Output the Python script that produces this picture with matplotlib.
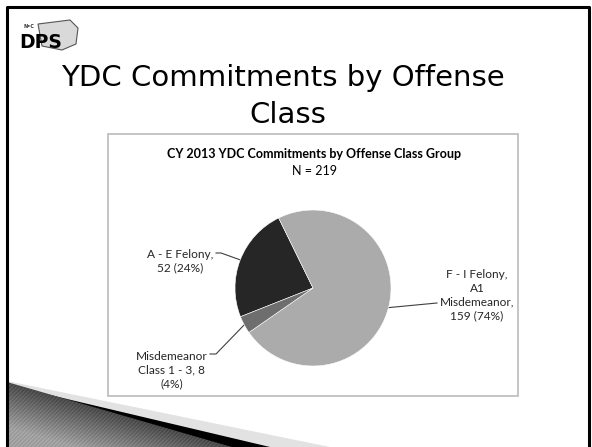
"""
YDC commitments by offense class - slide recreation
"""
import numpy as np
import matplotlib.pyplot as plt
from matplotlib.patches import Polygon, Rectangle

# data
categories = ["A - E Felony", "F - I Felony, A1 Misdemeanor", "Misdemeanor Class 1 - 3"]
counts = [52, 159, 8]
slice_labels = ["A - E Felony,\n52 (24%)",
                "F - I Felony,\nA1\nMisdemeanor,\n159 (74%)",
                "Misdemeanor\nClass 1 - 3, 8\n(4%)"]
slice_colors = ["#262626", "#ababab", "#6e6e6e"]

slide_title = ["YDC Commitments by Offense", "Class"]
chart_title = "CY 2013 YDC Commitments by Offense Class Group"
chart_sub = "N = 219"

W, H = 592, 447
fig = plt.figure(figsize=(W / 100, H / 100), dpi=100)

# background axes in pixel units (y down)
bg = fig.add_axes([0, 0, 1, 1])
bg.set_xlim(0, W)
bg.set_ylim(H, 0)
bg.axis("off")

# slide border
bg.plot([7, 7, 589, 589], [H, 7, 7, H], color="black", lw=2.2, solid_capstyle="butt")

# swoosh at the bottom left
bg.add_patch(Polygon([(7, 381), (330, 447), (7, 447)], closed=True, fc="#e2e2e2", ec="none"))
bg.add_patch(Polygon([(50, 395), (270, 447), (7, 447), (7, 384)], closed=True, fc="black", ec="none"))
gray_poly = Polygon([(7, 382), (232, 447), (7, 447)], closed=True, fc="none", ec="none")
bg.add_patch(gray_poly)
xx, yy = np.meshgrid(np.arange(7, 233), np.arange(380, 448))
dist = yy - (382 + (xx - 7) * 65 / 225)
shade = 0.26 + 0.34 * np.clip(dist / 45, 0, 1)
shade = shade + 0.06 * (((xx + yy) // 2) % 2)
img = bg.imshow(shade, cmap="gray", vmin=0, vmax=1, extent=(7, 233, 448, 380),
                origin="upper", interpolation="nearest", aspect="auto", zorder=1.5)
img.set_clip_path(gray_poly)
bg.set_xlim(0, W)
bg.set_ylim(H, 0)

# logo
bg.add_patch(Polygon([(38, 24), (70, 20), (78, 28), (76, 44), (62, 50), (42, 46)],
                     closed=True, fc="#d9d9d9", ec="#555555", lw=0.8))
bg.text(19, 48, "DPS", fontsize=13.5, fontweight="bold", family="DejaVu Sans",
        color="black", va="baseline")
bg.text(23, 28, "N•C", fontsize=3.5, fontweight="bold", color="#333333", va="baseline")

# slide title
bg.text(283, 86, slide_title[0], fontsize=21, ha="center", va="baseline",
        family="DejaVu Sans")
bg.text(288, 123, slide_title[1], fontsize=21, ha="center", va="baseline",
        family="DejaVu Sans")

# chart frame
bg.add_patch(Rectangle((108, 134), 410, 262, fc="white", ec="#c0c0c0", lw=1.3))
bg.text(314, 158, chart_title, fontsize=9, fontweight="bold", ha="center",
        va="baseline", family="Lato")
bg.text(314, 175, chart_sub, fontsize=9, ha="center", va="baseline", family="Lato")

# pie
cx, cy, r = 313, 288, 78
pie_ax = fig.add_axes([(cx - r) / W, (H - cy - r) / H, 2 * r / W, 2 * r / H])
wedges, _ = pie_ax.pie(counts, colors=slice_colors, startangle=201.6, counterclock=False,
                       wedgeprops=dict(edgecolor="white", linewidth=0.4))
pie_ax.set_xlim(-1, 1)
pie_ax.set_ylim(-1, 1)
pie_ax.axis("off")

# leader lines and labels (block centre in slide pixels)
label_pos = [(180, 261), (477, 295), (172, 370)]
line_ends = [[(216, 253), (221, 253)], [(437, 303)], [(210, 354), (216, 354)]]
for w, lab, (tx, ty), ends in zip(wedges, slice_labels, label_pos, line_ends):
    mid = np.deg2rad((w.theta1 + w.theta2) / 2)
    ex, ey = cx + r * np.cos(mid), cy - r * np.sin(mid)
    pts = ends + [(ex, ey)]
    bg.plot([p[0] for p in pts], [p[1] for p in pts], color="#404040", lw=0.8)
    bg.text(tx, ty, lab, fontsize=8.6, ha="center", va="center", family="Lato",
            linespacing=1.3, color="#262626")
bg.set_xlim(0, W)
bg.set_ylim(H, 0)

fig.savefig("out.png", dpi=100)
